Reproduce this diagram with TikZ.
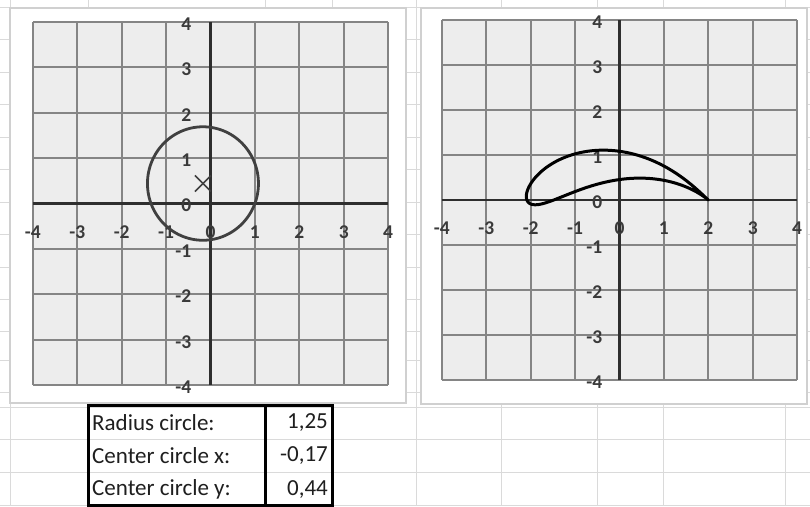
\documentclass[tikz,border=0pt]{standalone}
\usepackage{fontspec}
\setmainfont{Carlito}
\definecolor{sheetline}{HTML}{DADADA}
\definecolor{arealine}{HTML}{D0D0D0}
\definecolor{plotbg}{HTML}{EDEDED}
\definecolor{gridgray}{HTML}{858585}
\definecolor{axisgray}{HTML}{2E2E2E}
\definecolor{ticktext}{HTML}{3A3A3A}
\definecolor{circgray}{HTML}{404040}
\definecolor{tabletext}{HTML}{1F1F1F}
\tikzset{
  sheet/.style={draw=sheetline, line width=1pt},
  chartarea/.style={draw=arealine, fill=white, line width=1.2pt},
  plotarea/.style={fill=plotbg},
  gridl/.style={draw=gridgray, line width=1.7pt},
  axisl/.style={draw=axisgray, line width=2.1pt},
  ticklbl/.style={inner sep=0pt, text=ticktext, font=\bfseries\fontsize{19.5}{19.5}\selectfont},
  circline/.style={draw=circgray, line width=2.8pt},
  markline/.style={draw=circgray, line width=1.6pt},
  foilline/.style={draw=black, line width=3pt, line join=round},
  tblline/.style={draw=black, line width=3pt},
  tbltext/.style={inner sep=0pt, text=tabletext, font=\fontsize{23}{23}\selectfont},
  declare function={cxa(\t)=-0.17+1.25*cos(\t); cya(\t)=0.44+1.25*sin(\t);
    crr(\t)=cxa(\t)*cxa(\t)+cya(\t)*cya(\t);
    jxa(\t)=cxa(\t)*(1+1/crr(\t)); jya(\t)=cya(\t)*(1-1/crr(\t));}
}
\begin{document}
\begin{tikzpicture}[x=1pt,y=-1pt]
\useasboundingbox (0,0) rectangle (810,506);
\fill[white] (0,0) rectangle (810,506);
% spreadsheet grid
\foreach \yy in {7,39,72,104,137,169,202,234,267,299,331,360,392,407,439,472,505}
  \draw[sheet] (0,\yy) -- (810,\yy);
\foreach \xx in {10,88,265,332,416,501,597,663,785}
  \draw[sheet] (\xx,0) -- (\xx,506);
% chart areas
\draw[chartarea] (10,8) rectangle (406,403);
\draw[chartarea] (421,8) rectangle (807,404);

% ---------- left chart ----------
\begin{scope}[shift={(210.5pt,-203.5pt)}, x=44.4pt, y=45.4pt]
  \fill[plotarea] (-4,-4) rectangle (4,4);
  \foreach \i in {-4,...,4} {
    \draw[gridl] (\i,-4) -- (\i,4);
    \draw[gridl] (-4,\i) -- (4,\i);
  }
  \draw[axisl] (-4,0) -- (4,0);
  \draw[axisl] (0,-4) -- (0,4);
  \foreach \i [count=\k] in {-4,...,4} {
    \node[ticklbl] (lxa\k) at ([yshift=-29pt]\i,0) {\i};
    \node[ticklbl, anchor=east] (lya\k) at ([xshift=-19pt,yshift=-2pt]0,\i) {\i};
  }
  \draw[circline] plot[domain=0:360, samples=121, variable=\t]
    ({-0.17+1.25*cos(\t)},{0.44+1.25*sin(\t)}) -- cycle;
  \coordinate (ctr) at (-0.17,0.44);
  \draw[markline] ([xshift=-8pt,yshift=-8pt]ctr) -- ([xshift=8pt,yshift=8pt]ctr);
  \draw[markline] ([xshift=-8pt,yshift=8pt]ctr) -- ([xshift=8pt,yshift=-8pt]ctr);
\end{scope}

% ---------- right chart ----------
\begin{scope}[shift={(619.5pt,-200pt)}, x=44.4pt, y=45pt]
  \fill[plotarea] (-4,-4) rectangle (4,4);
  \foreach \i in {-4,...,4} {
    \draw[gridl] (\i,-4) -- (\i,4);
    \draw[gridl] (-4,\i) -- (4,\i);
  }
  \draw[axisl] (-4,0) -- (4,0);
  \draw[axisl] (0,-4) -- (0,4);
  \foreach \i [count=\k] in {-4,...,4} {
    \node[ticklbl] (lxb\k) at ([yshift=-28pt]\i,0) {\i};
    \node[ticklbl, anchor=east] (lyb\k) at ([xshift=-17pt,yshift=-2pt]0,\i) {\i};
  }
  \draw[foilline] plot[domain=-20.61:339.39, samples=361, variable=\t]
    ({jxa(\t)},{jya(\t)}) -- cycle;
\end{scope}

% ---------- table ----------
\draw[tblline] (88,405) rectangle (332,505);
\draw[tblline] (265,405) -- (265,505);
\node[tbltext, anchor=west] (r1) at (92,423) {Radius circle:};
\node[tbltext, anchor=west] (r2) at (92,456) {Center circle x:};
\node[tbltext, anchor=west] (r3) at (92,489) {Center circle y:};
\node[tbltext, anchor=east] (v1) at (328,423) {1,25};
\node[tbltext, anchor=east] (v2) at (328,456) {-0,17};
\node[tbltext, anchor=east] (v3) at (328,489) {0,44};
\end{tikzpicture}
\end{document}
